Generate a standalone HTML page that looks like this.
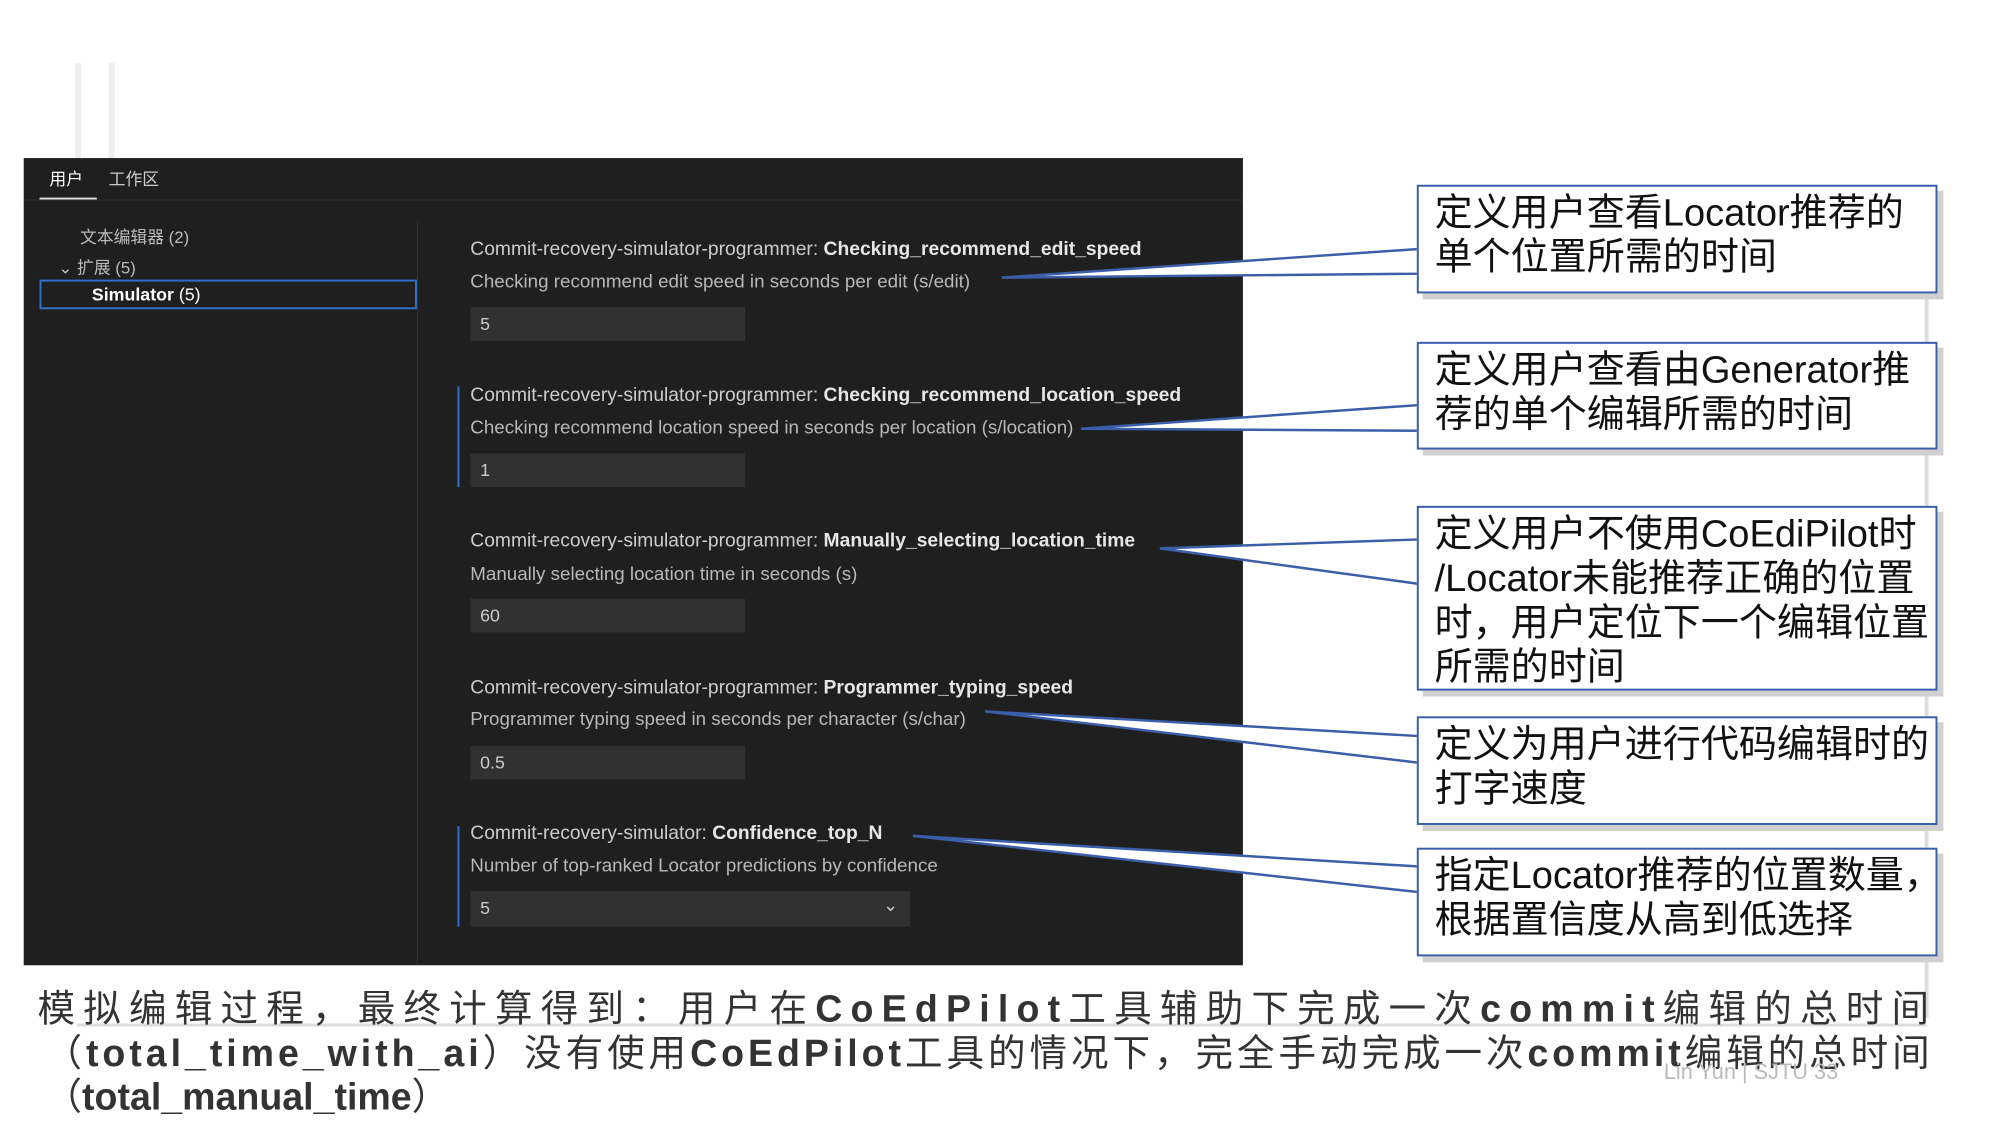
<!DOCTYPE html>
<html><head><meta charset="utf-8"><style>
*{margin:0;padding:0;box-sizing:border-box}
body{width:2000px;height:1125px;background:#fff;position:relative;overflow:hidden;font-family:"Liberation Sans","Noto Sans CJK SC",sans-serif}
#w{position:absolute;left:0;top:0;width:2024px;height:1139px;transform:scale(0.988);transform-origin:0 0}
.a{position:absolute;white-space:nowrap}
#panel{position:absolute;left:24px;top:160px;width:1234px;height:817px;background:#1f1f1f}
.t{color:#ccc;font-size:19.5px}
.t b{color:#e6e6e6}
.d{color:#b8b8b8;font-size:19px}
.in{position:absolute;left:476px;width:278px;height:34px;background:#313131;color:#ccc;font-size:18px;padding:7px 10px}
.box{position:absolute;left:1434px;width:527px;border:2px solid #3a5ea8;background:#fff;font-size:38.5px;line-height:45px;padding:4px 16px;color:#111;white-space:nowrap;box-shadow:6px 6px 0 #d0d0d0}
.bt{font-size:38px;color:#333;letter-spacing:8.3px}
</style></head><body><div id="w">
<div class="a" style="left:76px;top:64px;width:6px;height:96px;background:#eee"></div>
<div class="a" style="left:110px;top:64px;width:6px;height:96px;background:#eee"></div>
<div class="a" style="left:78px;top:1036px;width:1872px;height:3px;background:#ddd"></div>
<div class="a" style="left:1948px;top:300px;width:4px;height:730px;background:#ddd"></div>
<div id="panel">
 <div class="a" style="left:26px;top:7px;color:#fff;font-size:17px">用户</div>
 <div class="a" style="left:86px;top:7px;color:#ccc;font-size:17px">工作区</div>
 <div class="a" style="left:16px;top:40px;width:58px;height:2px;background:#ddd"></div>
 <div class="a" style="left:0;top:42px;width:1234px;height:1px;background:#333"></div>
 <div class="a" style="left:398px;top:64px;width:1px;height:753px;background:#333"></div>
 <div class="a" style="left:57px;top:66px;color:#bbb;font-size:17px">文本编辑器 (2)</div>
 <div class="a" style="left:35px;top:97px;color:#bbb;font-size:17px">⌄ 扩展 (5)</div>
 <div class="a" style="left:16px;top:123px;width:382px;height:30px;border:2px solid #2f6fc7"></div>
 <div class="a" style="left:69px;top:128px;color:#fff;font-size:18px"><b>Simulator</b> (5)</div>
</div>
<div class="a" style="left:463px;top:391px;width:2px;height:102px;background:#2f6fc7"></div>
<div class="a" style="left:463px;top:836px;width:2px;height:102px;background:#2f6fc7"></div>
<div class="a t" style="left:476px;top:241px">Commit-recovery-simulator-programmer: <b>Checking_recommend_edit_speed</b></div>
<div class="a d" style="left:476px;top:275px">Checking recommend edit speed in seconds per edit (s/edit)</div>
<div class="in" style="top:311px">5</div>
<div class="a t" style="left:476px;top:389px">Commit-recovery-simulator-programmer: <b>Checking_recommend_location_speed</b></div>
<div class="a d" style="left:476px;top:423px">Checking recommend location speed in seconds per location (s/location)</div>
<div class="in" style="top:459px">1</div>
<div class="a t" style="left:476px;top:536px">Commit-recovery-simulator-programmer: <b>Manually_selecting_location_time</b></div>
<div class="a d" style="left:476px;top:571px">Manually selecting location time in seconds (s)</div>
<div class="in" style="top:606px">60</div>
<div class="a t" style="left:476px;top:685px">Commit-recovery-simulator-programmer: <b>Programmer_typing_speed</b></div>
<div class="a d" style="left:476px;top:718px">Programmer typing speed in seconds per character (s/char)</div>
<div class="in" style="top:755px">0.5</div>
<div class="a t" style="left:476px;top:832px">Commit-recovery-simulator: <b>Confidence_top_N</b></div>
<div class="a d" style="left:476px;top:866px">Number of top-ranked Locator predictions by confidence</div>
<div class="in" style="top:902px;width:445px;height:36px">5<span style="position:absolute;right:12px;top:4px">⌄</span></div>
<svg class="a" style="left:0;top:0" width="2024" height="1139">
<g fill="#fff" stroke="#3a5ea8" stroke-width="2.5">
<polygon points="1436,252 1014,281 1436,277"/>
<polygon points="1436,410 1094,434 1436,436"/>
<polygon points="1436,546 1174,555 1436,591"/>
<polygon points="1436,745 997,720 1436,772"/>
<polygon points="1436,877 924,846 1436,903"/>
</g></svg>
<div class="box" style="top:187px;height:110px">定义用户查看Locator推荐的<br>单个位置所需的时间</div>
<div class="box" style="top:346px;height:109px">定义用户查看由Generator推<br>荐的单个编辑所需的时间</div>
<div class="box" style="top:512px;height:187px">定义用户不使用CoEdiPilot时<br>/Locator未能推荐正确的位置<br>时，用户定位下一个编辑位置<br>所需的时间</div>
<div class="box" style="top:725px;height:110px">定义为用户进行代码编辑时的<br>打字速度</div>
<div class="box" style="top:858px;height:110px">指定Locator推荐的位置数量，<br>根据置信度从高到低选择</div>
<div class="a bt" style="left:38px;top:990px">模拟编辑过程，最终计算得到：用户在<b>CoEdPilot</b>工具辅助下完成一次<b>commit</b>编辑的总时间</div>
<div class="a bt" style="left:45px;top:1035px;letter-spacing:4px">（<b>total_time_with_ai</b>）没有使用<b>CoEdPilot</b>工具的情况下，完全手动完成一次<b>commit</b>编辑的总时间</div>
<div class="a bt" style="left:45px;top:1079px;letter-spacing:0">（<b>total_manual_time</b>）</div>
<div class="a" style="left:1684px;top:1072px;color:#bbb;font-size:22px">Lin Yun | SJTU 33</div>
</div></body></html>
